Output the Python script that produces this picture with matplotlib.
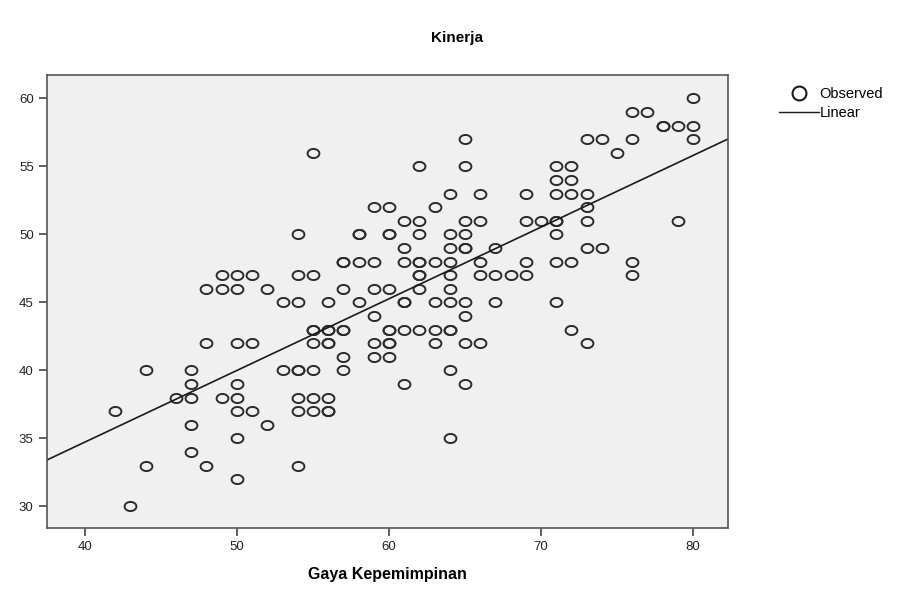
import numpy as np
import matplotlib
matplotlib.use("Agg")
import matplotlib.pyplot as plt
from matplotlib.path import Path
from matplotlib.lines import Line2D

plt.rcParams["font.family"] = ["Liberation Sans", "DejaVu Sans"]

# Kinerja (y) -> list of Gaya Kepemimpinan (x) values observed at that score
rows = {
    60: [80],
    59: [76, 77],
    58: [78, 78, 79, 80],
    57: [65, 73, 74, 76, 80],
    56: [55, 75],
    55: [62, 65, 71, 72],
    54: [71, 72],
    53: [64, 66, 69, 71, 72, 73],
    52: [59, 60, 63, 73],
    51: [61, 62, 65, 66, 69, 70, 71, 71, 73, 79],
    50: [54, 58, 58, 60, 60, 62, 64, 65, 71],
    49: [61, 64, 65, 65, 67, 73, 74],
    48: [57, 57, 58, 59, 61, 62, 62, 63, 64, 66, 69, 71, 72, 76],
    47: [49, 50, 51, 54, 55, 62, 62, 64, 66, 67, 68, 69, 76],
    46: [48, 49, 50, 52, 57, 59, 60, 62, 64],
    45: [53, 54, 56, 58, 61, 61, 63, 64, 65, 67, 71],
    44: [59, 65],
    43: [55, 55, 56, 56, 57, 57, 60, 60, 61, 62, 63, 64, 64, 72],
    42: [48, 50, 51, 55, 56, 56, 59, 60, 60, 63, 65, 66, 73],
    41: [57, 59, 60],
    40: [44, 47, 53, 54, 54, 55, 57, 64],
    39: [47, 50, 61, 65],
    38: [46, 47, 49, 50, 54, 55, 56],
    37: [42, 50, 51, 54, 55, 56, 56],
    36: [47, 52],
    35: [50, 64],
    34: [47],
    33: [44, 48, 54],
    32: [50],
    30: [43],
}

gaya = np.array([x for y, xs in rows.items() for x in xs], dtype=float)
kinerja = np.array([y for y, xs in rows.items() for x in xs], dtype=float)

x_ticks = [40, 50, 60, 70, 80]
y_ticks = [30, 35, 40, 45, 50, 55, 60]

# slightly flattened circle like the SPSS marker
t = np.linspace(0, 2 * np.pi, 60)
ellipse = Path(np.column_stack([1.3 * np.cos(t), np.sin(t)]), closed=True)

fig = plt.figure(figsize=(9.01, 5.92), dpi=100)
ax = fig.add_axes([0.052, 0.108, 0.756, 0.765])
ax.set_facecolor("#f0f0f0")

ax.plot(gaya, kinerja, linestyle="none", marker=ellipse, markersize=8.5,
        markerfacecolor="none", markeredgecolor="#2a2a2a", markeredgewidth=1.4)

xlim = (37.5, 82.3)
slope, intercept = np.polyfit(gaya, kinerja, 1)
xl = np.array(xlim)
ax.plot(xl, intercept + slope * xl, color="#1a1a1a", lw=1.2)

ax.set_xlim(*xlim)
ax.set_ylim(28.4, 61.7)
ax.set_xticks(x_ticks)
ax.set_yticks(y_ticks)
ax.tick_params(direction="out", length=6, width=1.2, colors="#444444",
               labelcolor="#222222", labelsize=9.5)
for s in ax.spines.values():
    s.set_color("#555555")
    s.set_linewidth(1.2)

fig.text(0.507, 0.935, "Kinerja", ha="center", va="center",
         fontsize=11, fontweight="bold")
ax.set_xlabel("Gaya Kepemimpinan", fontsize=11.5, fontweight="bold", labelpad=10)

handles = [
    Line2D([], [], linestyle="none", marker="o", markersize=10,
           markerfacecolor="white", markeredgecolor="#1a1a1a", markeredgewidth=1.5),
    Line2D([], [], color="#1a1a1a", lw=1.0),
]
fig.legend(handles, ["Observed", "Linear"], loc="upper left",
           bbox_to_anchor=(0.856, 0.866), frameon=False, fontsize=10.5,
           handlelength=2.75, handletextpad=0.05, labelspacing=0.37,
           borderpad=0)

fig.savefig("out.png", dpi=100)
